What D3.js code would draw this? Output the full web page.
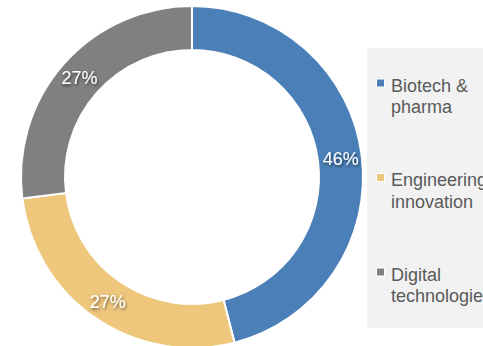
<!DOCTYPE html>
<html>
<head>
<meta charset="utf-8">
<script src="https://cdn.jsdelivr.net/npm/d3@7"></script>
<style>
  body { margin: 0; background: #fff; }
  svg { display: block; font-family: "Liberation Sans", Arial, sans-serif; }
</style>
</head>
<body>
<div id="chart"></div>
<script>
// chart data
const categories = ["Biotech & pharma", "Engineering innovation", "Digital technologies"];
const shares = [46, 27, 27];
const labels = ["46%", "27%", "27%"];
const legendLines = [["Biotech &", "pharma"], ["Engineering", "innovation"], ["Digital", "technologies"]];
const colors = ["#4a7fb7", "#eec77d", "#808080"];

const width = 483;
const height = 346;

const svg = d3.select("#chart")
    .append("svg")
    .attr("width", width)
    .attr("height", height);

// soft shadow behind the slice labels
const defs = svg.append("defs");
const shadow = defs.append("filter")
    .attr("id", "shadow")
    .attr("x", "-30%").attr("y", "-30%")
    .attr("width", "160%").attr("height", "160%");
shadow.append("feDropShadow")
    .attr("dx", 1).attr("dy", 1.5)
    .attr("stdDeviation", 1.5)
    .attr("flood-color", "#000")
    .attr("flood-opacity", 0.6);

// donut
const cx = 192, cy = 177;
const outerR = 171, innerR = 127;

const pie = d3.pie().sort(null).value(d => d);
const arcs = pie(shares);

const arc = d3.arc().innerRadius(innerR).outerRadius(outerR);
const labelArc = d3.arc().innerRadius(150).outerRadius(150);

const g = svg.append("g").attr("transform", `translate(${cx},${cy})`);

g.selectAll("path")
    .data(arcs)
    .enter().append("path")
    .attr("d", arc)
    .attr("fill", (d, i) => colors[i])
    .attr("stroke", "#fff")
    .attr("stroke-width", 2);

g.selectAll("text.pct")
    .data(arcs)
    .enter().append("text")
    .attr("class", "pct")
    .attr("transform", d => `translate(${labelArc.centroid(d)})`)
    .attr("text-anchor", "middle")
    .attr("dy", "0.36em")
    .attr("fill", "#fff")
    .attr("filter", "url(#shadow)")
    .style("font-size", "18px")
    .text((d, i) => labels[i]);

// legend box
svg.append("rect")
    .attr("x", 367)
    .attr("y", 48)
    .attr("width", width - 367)
    .attr("height", 280)
    .attr("fill", "#f2f2f2");

const legendY = d3.scalePoint()
    .domain(categories)
    .range([91.5, 280.5]);

const items = svg.selectAll("g.legend")
    .data(categories)
    .enter().append("g")
    .attr("class", "legend")
    .attr("transform", d => `translate(0,${legendY(d)})`);

items.append("rect")
    .attr("x", 376.5)
    .attr("y", -12.5)
    .attr("width", 8)
    .attr("height", 8)
    .attr("fill", (d, i) => colors[i])
    .attr("stroke", "#fff")
    .attr("stroke-width", 1);

items.append("text")
    .attr("x", 391)
    .attr("fill", "#595959")
    .style("font-size", "18px")
    .selectAll("tspan")
    .data((d, i) => legendLines[i])
    .enter().append("tspan")
    .attr("x", 391)
    .attr("y", (d, j) => j * 21.5)
    .text(d => d);
</script>
</body>
</html>
